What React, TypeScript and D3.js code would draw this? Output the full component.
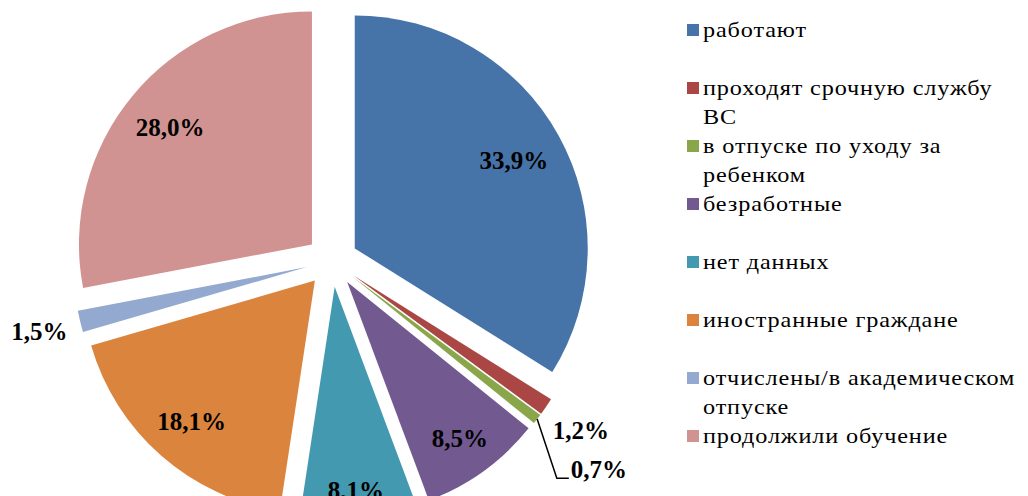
import React, { useEffect, useRef } from 'react';
import * as d3 from 'd3';

const categories = [
  'работают',
  'проходят срочную службу\nВС',
  'в отпуске по уходу за\nребенком',
  'безработные',
  'нет данных',
  'иностранные граждане',
  'отчислены/в академическом\nотпуске',
  'продолжили обучение',
];
const shares = [33.9, 1.2, 0.7, 8.5, 8.1, 18.1, 1.5, 28.0];
const colors = ['#4674A8', '#AA4643', '#8AA64A', '#725A91', '#4399B0', '#DB843D', '#93A9D0', '#D19392'];

const W = 1028;
const H = 496;
const SERIF = '"Liberation Serif", "Times New Roman", serif';

const App = () => {
  const ref = useRef<SVGSVGElement>(null);

  useEffect(() => {
    const svg = d3.select(ref.current);
    svg.selectAll('*').remove();

    const cx = 332, cy = 261, radius = 233, explode = 26;
    const pie = d3.pie<number>().sort(null).value(d => d);
    const arcs = pie(shares);
    const arc = d3.arc<d3.PieArcDatum<number>>().innerRadius(0).outerRadius(radius);
    const fmt = (v: number) => d3.format('.1f')(v).replace('.', ',') + '%';
    const dirOf = (a: d3.PieArcDatum<number>) => {
      const m = (a.startAngle + a.endAngle) / 2;
      return [Math.sin(m), -Math.cos(m)];
    };

    const g = svg.append('g').attr('transform', `translate(${cx},${cy})`);

    arcs.forEach((a, i) => {
      const [ux, uy] = dirOf(a);
      g.append('path')
        .attr('d', arc(a))
        .attr('transform', `translate(${ux * explode},${uy * explode})`)
        .attr('fill', colors[i]);
    });

    // percent labels: big slices inside, small ones outside (stacked if they collide)
    const fs = 25;
    let prevOut: { x: number; y: number } | null = null;
    arcs.forEach((a, i) => {
      const [ux, uy] = dirOf(a);
      const t = g.append('text')
        .attr('font-family', SERIF)
        .attr('font-weight', 'bold')
        .attr('font-size', fs)
        .attr('fill', '#000')
        .attr('text-anchor', 'middle')
        .attr('dy', '0.34em')
        .text(fmt(shares[i]));
      const w = (t.node() as SVGTextElement).getComputedTextLength();
      if (shares[i] >= 2) {
        const ext = 0.5 * (w * Math.abs(ux) + fs * 0.68 * Math.abs(uy));
        const d = explode + radius - 17 - ext;
        t.attr('x', ux * d).attr('y', uy * d);
      } else {
        const d = explode + radius + 42;
        let x = ux * d, y = uy * d;
        if (prevOut && Math.abs(prevOut.y - y) < 30 && Math.sign(prevOut.x) === Math.sign(x)) {
          x = prevOut.x + 18;
          y = prevOut.y + 39;
          const ox = ux * (explode + radius), oy = uy * (explode + radius);
          const left = x - w / 2;
          const bottom = y + fs * 0.36;
          g.append('path')
            .attr('d', `M${ox},${oy}L${left - 14},${bottom}L${left - 2},${bottom}`)
            .attr('fill', 'none')
            .attr('stroke', '#000')
            .attr('stroke-width', 1.5);
        }
        t.attr('x', x).attr('y', y);
        prevOut = { x, y };
      }
    });

    // legend
    const legend = svg.append('g');
    categories.forEach((name, i) => {
      const base = 37 + i * 58;
      legend.append('rect')
        .attr('x', 687)
        .attr('y', base - 13)
        .attr('width', 12)
        .attr('height', 12)
        .attr('fill', colors[i]);
      // the source font is a bit wider than Times, so stretch it horizontally
      const lines = legend.append('g').attr('transform', `translate(703,${base}) scale(1.1,1)`);
      name.split('\n').forEach((line, j) => {
        lines.append('text')
          .attr('x', 0)
          .attr('y', j * 29)
          .attr('font-family', SERIF)
          .attr('font-size', 22)
          .attr('letter-spacing', 0.8)
          .attr('fill', '#000')
          .text(line);
      });
    });
  }, []);

  return (
    <svg
      ref={ref}
      width={W}
      height={H}
      style={{ position: 'absolute', left: 0, top: 0, background: '#fff' }}
    />
  );
};

export default App;
